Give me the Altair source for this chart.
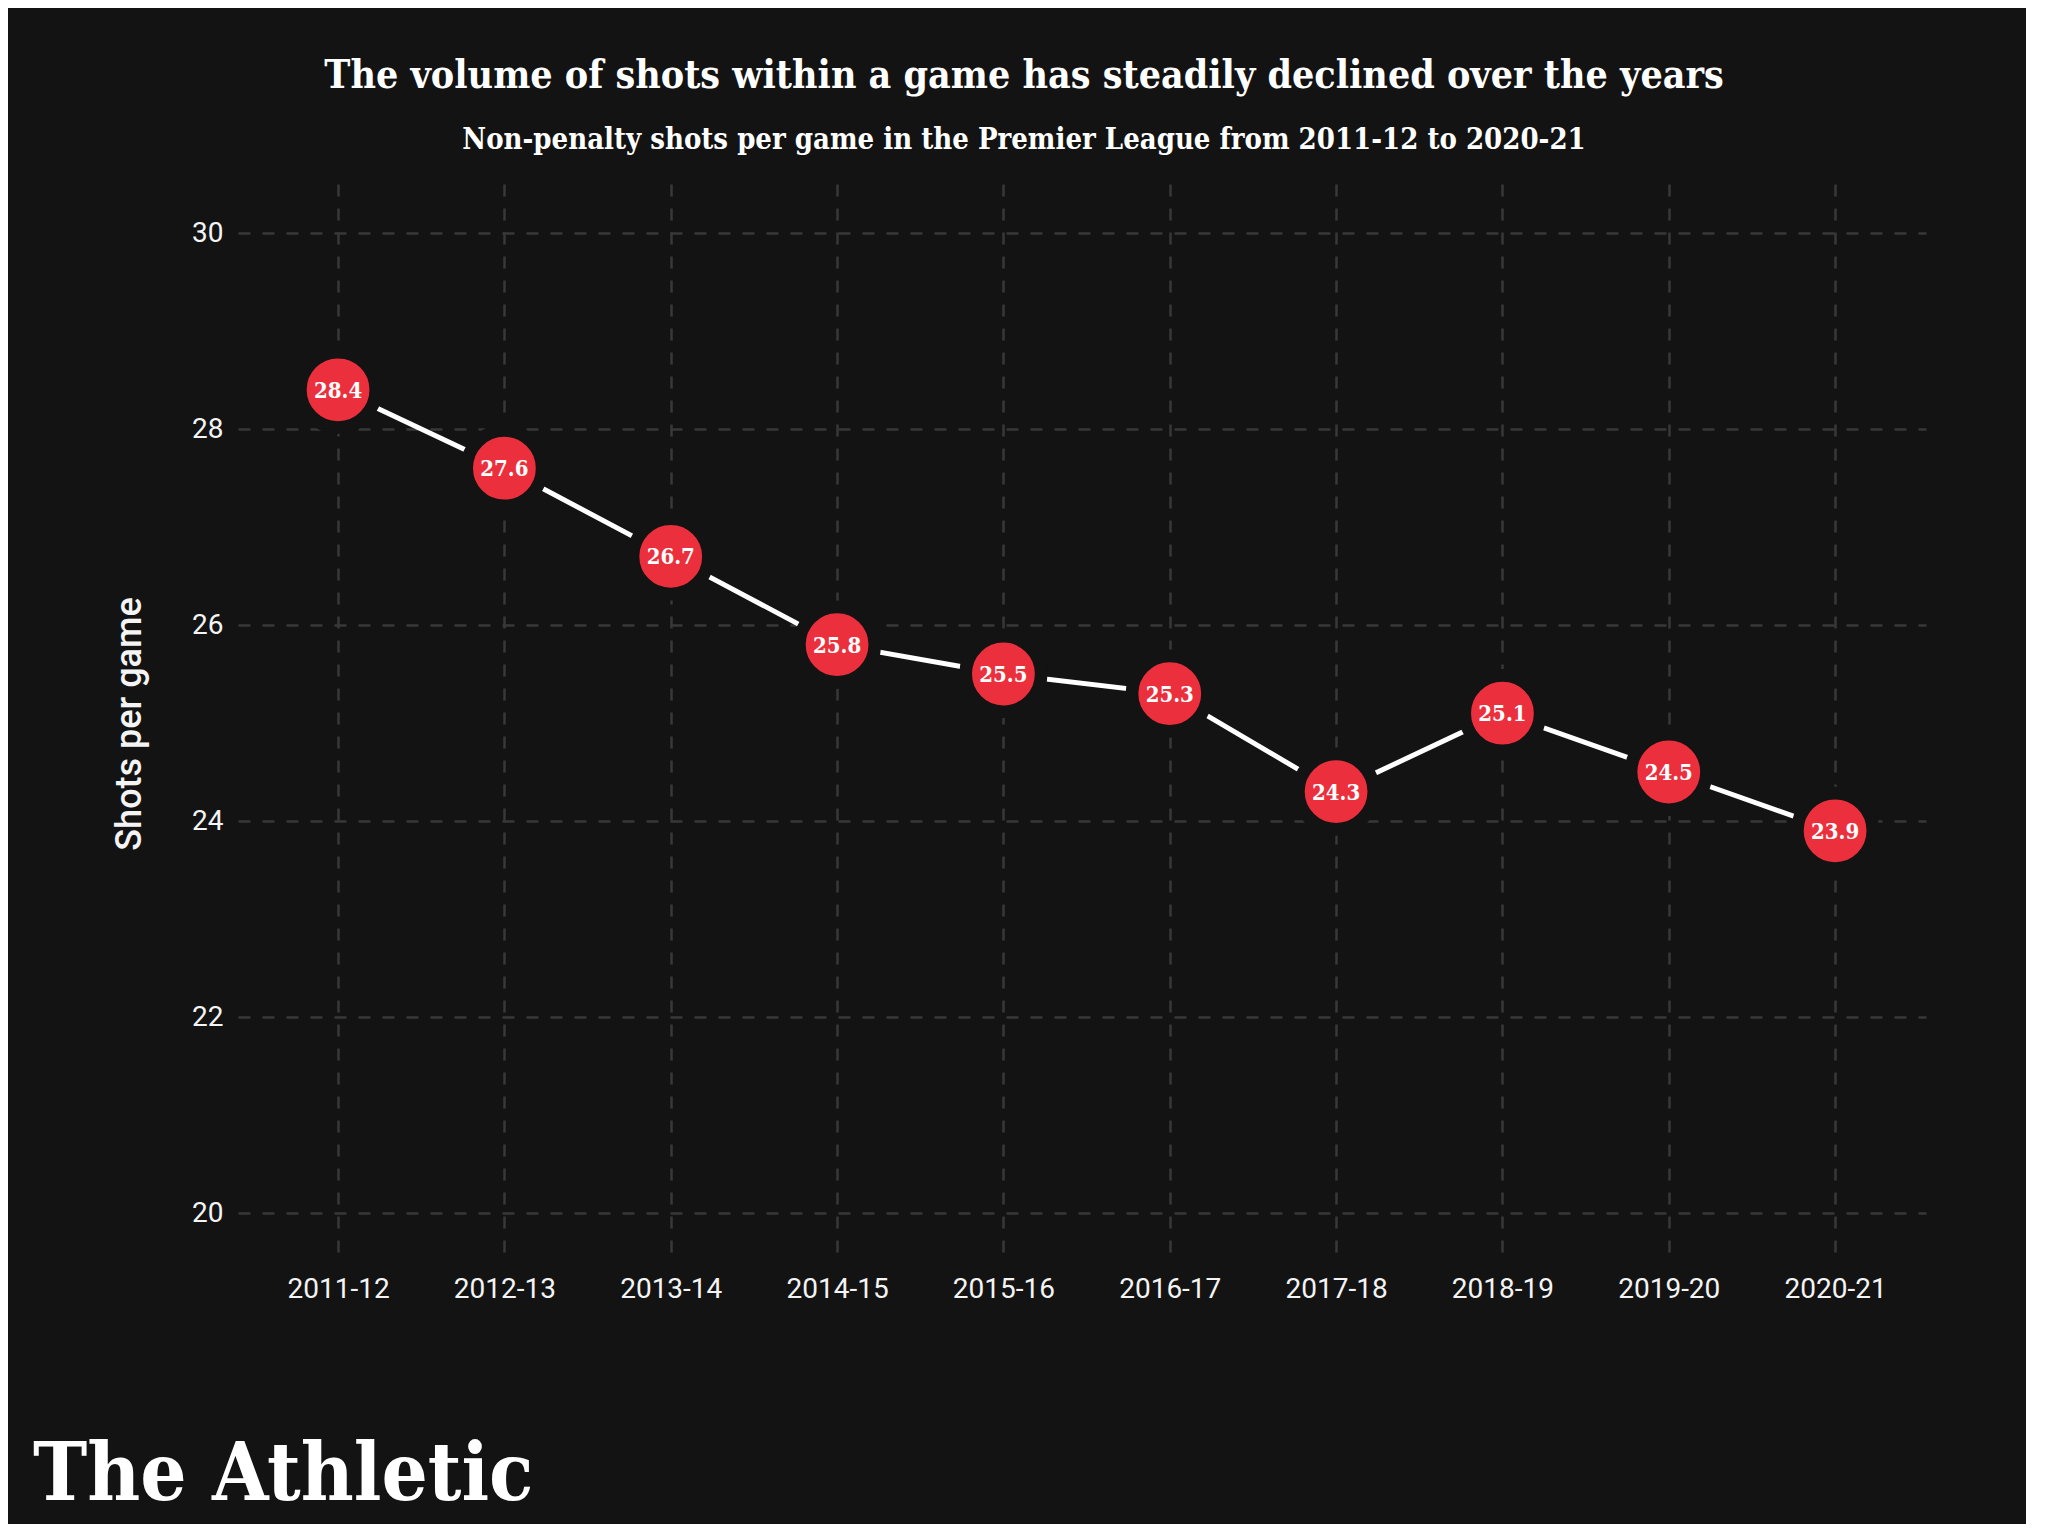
import altair as alt
import pandas as pd

# ---- data ----
seasons = ["2011-12", "2012-13", "2013-14", "2014-15", "2015-16",
           "2016-17", "2017-18", "2018-19", "2019-20", "2020-21"]
shots = [28.4, 27.6, 26.7, 25.8, 25.5, 25.3, 24.3, 25.1, 24.5, 23.9]
y_ticks = [20, 22, 24, 26, 28, 30]

title_text = "The volume of shots within a game has steadily declined over the years"
subtitle_text = "Non-penalty shots per game in the Premier League from 2011-12 to 2020-21"
y_title = "Shots per game"
logo_text = "The Athletic"

# ---- style ----
BG = "#131313"
RED = "#EC2F3C"
GRID = "#383838"
TXT = "#f4f4f4"
SLAB = "'DejaVu Serif Condensed', 'DejaVu Serif', serif"
SANS = "Roboto, 'Noto Sans', sans-serif"

df = pd.DataFrame({"season": seasons, "shots": shots})
df["label"] = [f"{v:.1f}" for v in shots]

x_enc = alt.X(
    "season:O",
    sort=seasons,
    scale=alt.Scale(type="point", padding=0.574, align=0.524),
    axis=alt.Axis(
        title=None, labelAngle=0, labelFont=SANS, labelFontSize=28,
        labelColor=TXT, labelPadding=13, ticks=False, domain=False,
        grid=True, gridColor=GRID, gridDash=[12, 12], gridWidth=2.5,
    ),
)
y_enc = alt.Y(
    "shots:Q",
    scale=alt.Scale(domain=[19.5, 30.5], nice=False, zero=False),
    axis=alt.Axis(
        values=y_ticks, format="d", title=y_title, labelFont=SANS, labelFontSize=28,
        labelColor=TXT, labelPadding=15, ticks=False, domain=False,
        grid=True, gridColor=GRID, gridDash=[12, 12], gridWidth=2.5,
        titleFont=SANS, titleFontSize=36, titleFontWeight=500, titleColor=TXT,
        titleAngle=270, titleAlign="center", titleBaseline="alphabetic",
        titleX=-98, titleY=539.5,
    ),
)

base = alt.Chart(df)

line = base.mark_line(color="white", strokeWidth=5).encode(x=x_enc, y=y_enc)

dots = base.mark_circle(
    size=5700, fill=RED, stroke=BG, strokeWidth=12.7, opacity=1
).encode(x=alt.X("season:O", sort=seasons), y="shots:Q")

labels = base.mark_text(
    font=SLAB, fontSize=22, fontWeight="bold", color="white",
    align="center", baseline="middle", dy=1,
).encode(x=alt.X("season:O", sort=seasons), y="shots:Q", text="label:N")

logo = alt.Chart(pd.DataFrame({"t": [logo_text]})).mark_text(
    font=SLAB, fontSize=81, fontWeight="bold", color="white",
    align="left", baseline="alphabetic",
).encode(x=alt.value(-205), y=alt.value(1316), text="t:N")

chart = alt.layer(line, dots, labels, logo).properties(
    width=1688,
    height=1078,
    padding={"left": 230, "top": 176, "right": 100, "bottom": 262},
    autosize=alt.AutoSizeParams(type="none"),
    background=BG,
    title=alt.TitleParams(
        text=title_text, subtitle=subtitle_text,
        font=SLAB, fontSize=39, fontWeight="bold", color="white",
        subtitleFont=SLAB, subtitleFontSize=29, subtitleFontWeight="bold",
        subtitleColor="white", anchor="middle", dx=-58,
        offset=28.9, subtitlePadding=29.9,
    ),
).configure_view(stroke=None)

chart.save("out.html", embed_options={"renderer": "svg", "actions": False})
